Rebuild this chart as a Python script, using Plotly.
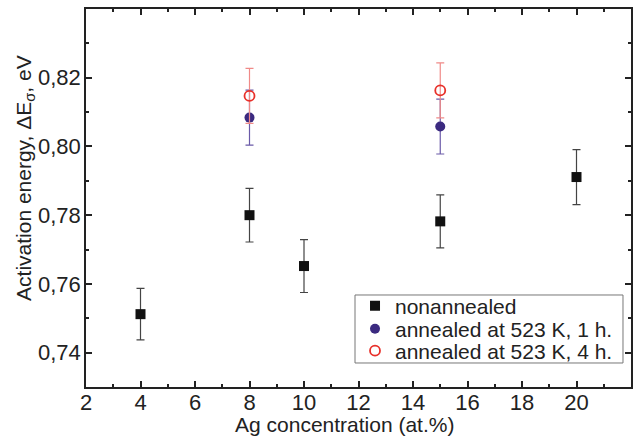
import plotly.graph_objects as go

# Data
x_non = [4, 8, 10, 15, 20]
y_non = [0.7512, 0.7800, 0.7652, 0.7782, 0.7911]
e_non = [0.0075, 0.0078, 0.0077, 0.0077, 0.0080]

x_1h = [8, 15]
y_1h = [0.8084, 0.8058]
e_1h = [0.0080, 0.0080]

x_4h = [8, 15]
y_4h = [0.8147, 0.8163]
e_4h = [0.0080, 0.0080]

series_names = ["nonannealed", "annealed at 523 K, 1 h.", "annealed at 523 K, 4 h."]

x_ticks = [2, 4, 6, 8, 10, 12, 14, 16, 18, 20]
y_ticks = [0.74, 0.76, 0.78, 0.80, 0.82]
y_ticklabels = ["0,74", "0,76", "0,78", "0,80", "0,82"]

FONT = "Liberation Sans, Arial, sans-serif"
TXT = "#222222"

fig = go.Figure()
fig.add_trace(go.Scatter(
    x=x_non, y=y_non, mode="markers", name=series_names[0], legend="legend",
    marker=dict(symbol="square", size=10, color="#111111"),
    error_y=dict(type="data", array=e_non, color="#444444", thickness=1.2, width=4),
))
fig.add_trace(go.Scatter(
    x=x_1h, y=y_1h, mode="markers", name=series_names[1], legend="legend2",
    marker=dict(symbol="circle", size=10, color="#3b2a80"),
    error_y=dict(type="data", array=e_1h, color="#6a5aa8", thickness=1.2, width=4),
))
fig.add_trace(go.Scatter(
    x=x_4h, y=y_4h, mode="markers", name=series_names[2], legend="legend3",
    marker=dict(symbol="circle-open", size=10, color="#e8302a", line=dict(width=1.8)),
    error_y=dict(type="data", array=e_4h, color="#f08a88", thickness=1.2, width=4),
))

axis_common = dict(
    showgrid=False, zeroline=False, showline=True, linecolor=TXT, linewidth=1.5,
    mirror="ticks", ticks="inside", ticklen=6, tickwidth=1.5, tickcolor=TXT,
    tickfont=dict(family=FONT, size=22, color=TXT), automargin=False,
)

leg_common = dict(
    x=0.4936, xanchor="left", yanchor="middle",
    bgcolor="rgba(0,0,0,0)", borderwidth=0,
    font=dict(family=FONT, size=21, color=TXT), itemwidth=30,
)

fig.update_layout(
    width=635, height=443,
    margin=dict(l=86, r=4, t=9, b=56),
    paper_bgcolor="white", plot_bgcolor="white",
    font=dict(family=FONT, size=21, color=TXT),
    xaxis=dict(
        range=[2, 22], tickvals=x_ticks, ticklabelstandoff=-5,
        minor=dict(dtick=1, ticks="inside", ticklen=3, tickcolor=TXT, tickwidth=1.5),
        **axis_common,
    ),
    yaxis=dict(
        range=[0.73, 0.84], tickvals=y_ticks, ticktext=y_ticklabels, ticklabelstandoff=-1,
        minor=dict(dtick=0.01, tick0=0.73, ticks="inside", ticklen=3, tickcolor=TXT, tickwidth=1.5),
        **axis_common,
    ),
    legend=dict(y=0.2143, **leg_common),
    legend2=dict(y=0.1534, **leg_common),
    legend3=dict(y=0.0952, **leg_common),
    showlegend=True,
    shapes=[
        dict(type="rect", xref="paper", yref="paper", x0=0.4936, x1=0.9853, y0=0.0635, y1=0.2434,
             line=dict(color="#777777", width=1), fillcolor="white", layer="below"),
    ],
    annotations=[
        dict(text="Ag concentration (at.%)", xref="paper", yref="paper",
             x=0.474, y=0, xanchor="center", yanchor="middle", yshift=-37,
             showarrow=False, font=dict(family=FONT, size=21, color=TXT)),
        dict(text="Activation energy, ΔE<sub>σ</sub>, eV", xref="paper", yref="paper",
             x=0, y=0.553, xanchor="center", yanchor="middle", xshift=-61, textangle=-90,
             showarrow=False, font=dict(family=FONT, size=21, color=TXT)),
    ],
)

fig.write_html("out.html", config={"displayModeBar": False},
               post_script="document.body.style.margin='0';document.body.style.overflow='hidden';")
